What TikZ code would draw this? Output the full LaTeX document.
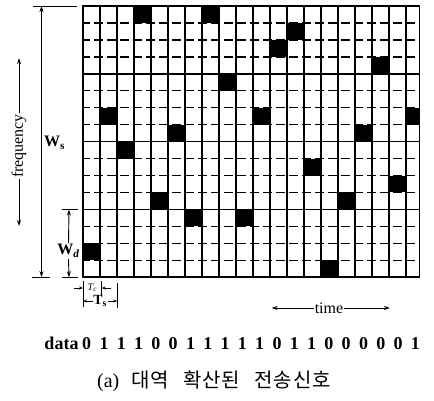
\documentclass[tikz,border=0pt]{standalone}
\usepackage{fontspec}
\setmainfont{Liberation Serif}
\newfontfamily\krfont{Noto Sans CJK KR}[LetterSpace=5]
\usetikzlibrary{arrows.meta}

\begin{document}
\begin{tikzpicture}[
  x=1pt,y=-1pt,
  vline/.style={line width=1.6pt},
  hsolid/.style={line width=1.4pt},
  hdash/.style={line width=1.3pt,dash pattern=on 9pt off 4pt,dash phase=2pt},
  extline/.style={line width=0.9pt},
  dim/.style={line width=0.9pt,-{Stealth[length=6pt,width=4pt]}},
  dimboth/.style={line width=0.9pt,{Stealth[length=6pt,width=4pt]}-{Stealth[length=6pt,width=4pt]}},
  dimsmall/.style={line width=0.8pt,-{Stealth[length=4pt,width=3pt]}},
  lbl/.style={font=\fontsize{16}{18}\selectfont,inner sep=1pt},
  wlbl/.style={font=\fontsize{16}{18}\selectfont\bfseries,inner sep=1pt},
  bit/.style={font=\fontsize{18}{20}\selectfont\bfseries,inner sep=0pt}
]
\useasboundingbox (0,0) rectangle (434,400);

% hopped cells, one per chip
\begin{scope}
  \clip (83,6) rectangle (419.5,277.2);
  \foreach \c/\r in {0/14,1/6,2/8,3/0,4/11,5/7,6/12,7/0,8/4,9/12,
                     10/6,11/2,12/1,13/9,14/15,15/11,16/7,17/3,18/10,19/6}
    \fill ({83+17*\c},{6+16.95*\r}) rectangle ++(17,16.95);
\end{scope}

% grid
\foreach \r in {1,2,3,5,6,7,9,10,11,13,14,15}
  \draw[hdash] (83,{6+16.95*\r}) -- (419.5,{6+16.95*\r});
\foreach \r in {4,8,12}
  \draw[hsolid] (83,{6+16.95*\r}) -- (419.5,{6+16.95*\r});
\foreach \c in {1,...,19}
  \draw[vline] ({83+17*\c},6) -- ({83+17*\c},277.2);
\draw[vline] (83,6) rectangle (419.5,277.2);

% W_s
\draw[extline] (33,6) -- (77,6);
\draw[extline] (32,277.2) -- (50,277.2);
\coordinate (wstop) at (41.5,6);
\coordinate (wsbot) at (41.5,277.2);
\draw[dimboth] (wstop) -- (wsbot);
\node[wlbl,anchor=west] (ws) at (43,143) {W\textsubscript{s}};

% W_d
\draw[extline] (62,209.5) -- (78,209.5);
\draw[extline] (62,277.2) -- (78,277.2);
\node[wlbl,fill=white] (wd) at (68.5,251) {W\textsubscript{\textit{d}}};
\coordinate (wdtop) at (69,209.5);
\coordinate (wdbot) at (69,277.2);
\draw[dim] (wd.north) -- (wdtop);
\draw[dim] (wd.south) -- (wdbot);

% frequency axis
\node[lbl,rotate=90] (freq) at (19,146) {frequency};
\coordinate (freqtop) at (19,58);
\coordinate (freqbot) at (19,226);
\draw[dim] (freq.east) -- (freqtop);
\draw[dim] (freq.west) -- (freqbot);

% T_c and T_s
\draw[extline] (83,281) -- (83,307);
\draw[extline] (101.7,281) -- (101.7,296);
\draw[extline] (117.3,283) -- (117.3,308);
\node[font=\fontsize{10}{12}\selectfont\itshape,inner sep=0.5pt] (tc) at (92.3,288) {T\textsubscript{c}};
\coordinate (tcL) at (83,288);
\coordinate (tcR) at (101.7,288);
\coordinate (tcLo) at (74,288);
\coordinate (tcRo) at (111,288);
\draw[dimsmall] (tcLo) -- (tcL);
\draw[dimsmall] (tcRo) -- (tcR);
\node[font=\fontsize{14}{16}\selectfont\bfseries,inner sep=0.5pt] (ts) at (100.2,301) {T\textsubscript{s}};
\coordinate (tsL) at (83,301);
\coordinate (tsR) at (117.3,301);
\draw[dimsmall] (ts.west) -- (tsL);
\draw[dimsmall] (ts.east) -- (tsR);

% time axis
\node[lbl] (timelbl) at (329,308) {time};
\coordinate (timeL) at (271.7,308);
\coordinate (timeR) at (390,308);
\draw[dim] (timelbl.west) -- (timeL);
\draw[dim] (timelbl.east) -- (timeR);

% data bits
\node[bit,anchor=base] (datalbl) at (61.5,349) {data};
\foreach \b [count=\i from 0] in {0,1,1,1,0,0,1,1,1,1,1,0,1,1,0,0,0,0,0,1}
  \node[bit,anchor=base] (bit\i) at ({86.7+17.3*\i},349) {\b};

% caption
\node[font=\fontsize{20}{22}\selectfont] (caption) at (214,381)
  {(a)\hspace{0.6em}{\krfont 대역\hspace{0.7em}확산된\hspace{0.7em}전송신호}};
\end{tikzpicture}
\end{document}
